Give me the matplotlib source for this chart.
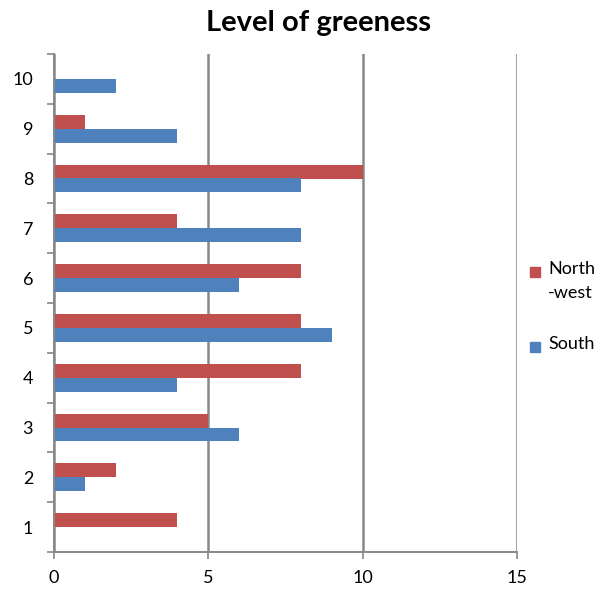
import matplotlib.pyplot as plt
import numpy as np
from matplotlib.ticker import FixedLocator
from matplotlib.patches import Rectangle

categories = ["1", "2", "3", "4", "5", "6", "7", "8", "9", "10"]
north_west = [4, 2, 5, 8, 8, 8, 4, 10, 1, 0]
south = [0, 1, 6, 4, 9, 6, 8, 8, 4, 2]
x_ticks = [0, 5, 10, 15]
series_names = ["North\n-west", "South"]

plt.rcParams['font.family'] = ['Lato', 'DejaVu Sans']

W, H = 608, 592
fig = plt.figure(figsize=(W / 100, H / 100), dpi=100)
ax = fig.add_axes([54 / W, 40 / H, 463 / W, 498 / H])

y = np.arange(len(categories))
h = 0.28
red = "#C0504D"
blue = "#4F81BD"
ax.barh(y + h / 2, north_west, height=h, color=red, zorder=3)
ax.barh(y - h / 2, south, height=h, color=blue, zorder=3)

ax.set_xlim(0, 15)
ax.set_ylim(-0.5, len(categories) - 0.5)
ax.set_xticks(x_ticks)
ax.set_xticklabels([str(t) for t in x_ticks], fontsize=13)
ax.set_yticks(y)
ax.set_yticklabels(categories, fontsize=13)
ax.yaxis.set_minor_locator(FixedLocator(np.arange(-0.5, len(categories), 1.0)))
ax.tick_params(axis='y', which='major', length=0, pad=15)
ax.tick_params(axis='y', which='minor', length=5, width=1.2, color="#888888")
ax.tick_params(axis='x', which='major', length=5, width=1.2, color="#888888", pad=8)

ax.grid(axis='x', color="#888888", linewidth=1.8, zorder=0)
for s in ['top', 'right']:
    ax.spines[s].set_visible(False)
for s in ['left', 'bottom']:
    ax.spines[s].set_color("#888888")
    ax.spines[s].set_linewidth(1.4)
    ax.spines[s].set_zorder(4)

fig.text(319 / W, 1 - 31 / H, "Level of greeness", fontsize=21, fontweight='bold',
         ha='center', va='baseline')

# Legend: swatch aligned with the first line of each label
legend_rows = [(series_names[0], red, 272), (series_names[1], blue, 347)]
sq = 10
for name, color, ypix in legend_rows:
    fig.patches.append(Rectangle((530 / W, 1 - (ypix + sq / 2) / H), sq / W, sq / H,
                                 transform=fig.transFigure, color=color))
    fig.text(548 / W, 1 - (ypix - 11) / H, name, fontsize=13, ha='left', va='top',
             linespacing=1.65)

fig.savefig("out.png", dpi=100)
